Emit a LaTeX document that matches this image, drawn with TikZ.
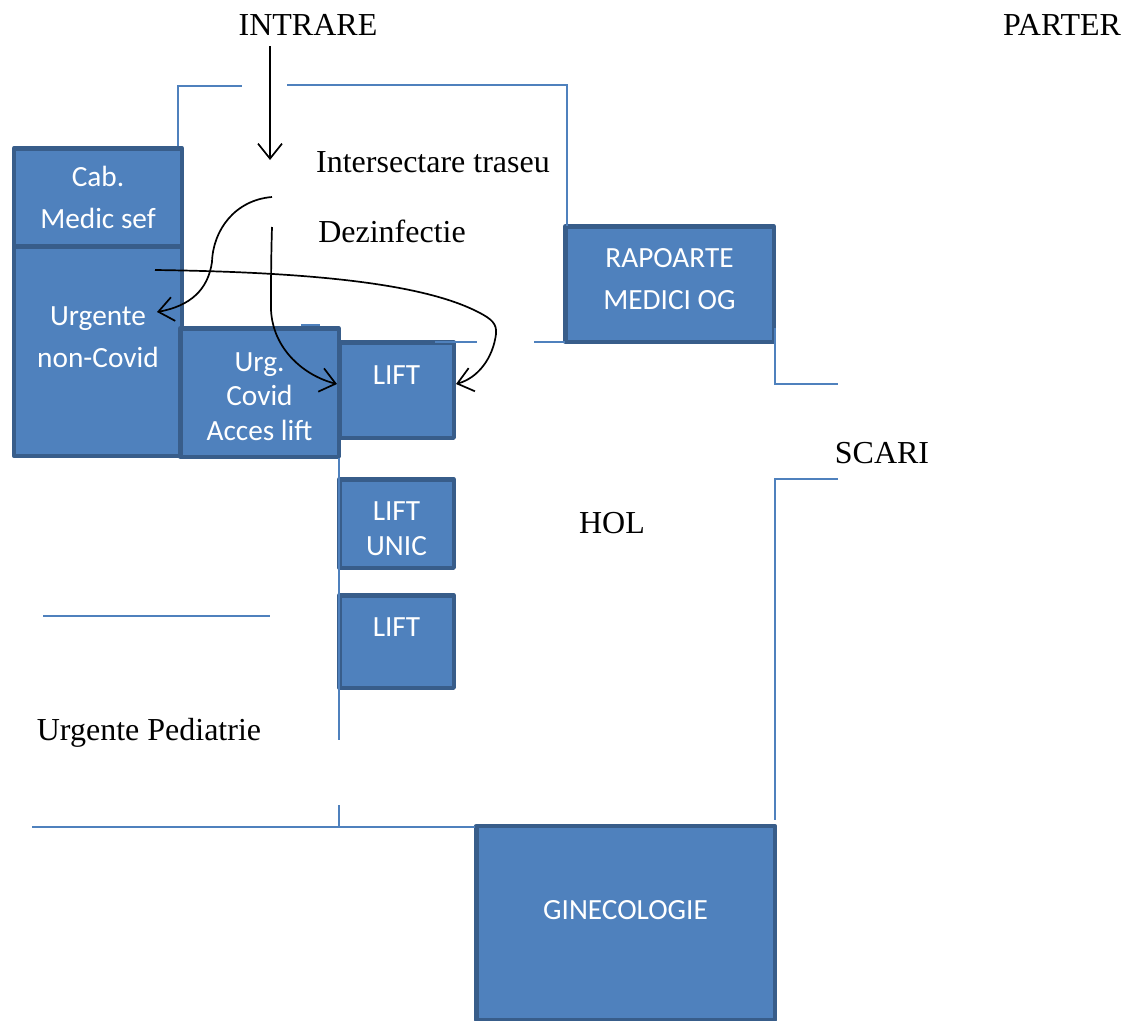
\documentclass[tikz,border=0pt]{standalone}
\usepackage{fontspec}
\setmainfont{Liberation Serif}
\newfontfamily\boxfont{Carlito}
\usetikzlibrary{arrows.meta}
\definecolor{roomfill}{HTML}{4F81BD}
\definecolor{roomline}{HTML}{385D8A}
\tikzset{
    room/.style={draw=roomline, fill=roomfill, line width=4.5pt, line join=round, text=white, align=center, inner sep=0pt, font=\boxfont\fontsize{29.3}{34.5}\selectfont},
    wall/.style={draw=roomfill, line width=2pt},
    route/.style={draw=black, line width=1.7pt, ->, >={Straight Barb[length=15pt,width=24pt,line width=1.7pt]}},
    caption/.style={font=\fontsize{32}{38}\selectfont, inner sep=0pt}
}
\begin{document}
\begin{tikzpicture}[x=1pt,y=-1pt]
    \useasboundingbox (0,0) rectangle (1129,1020);
    \node [room, minimum width=168, minimum height=97.5, text height=64pt] (cab) at (98,197) {Cab.\\[8pt]Medic sef};
    \node [room, minimum width=168, minimum height=209.5, text depth=28pt] (urgnon) at (98,351) {Urgente\\[8pt]non-Covid};
    \node [room, minimum width=114.5, minimum height=95.5, text depth=30pt] (lifta) at (396.5,390) {LIFT};
    \node [room, minimum width=158.5, minimum height=128.5, text height=96pt] (urgcov) at (259.5,392.5) {Urg.\\Covid\\Acces lift};
    \node [room, minimum width=114.5, minimum height=88.5, text height=65pt] (liftunic) at (396.5,523.5) {LIFT\\[.5pt]UNIC};
    \node [room, minimum width=114.5, minimum height=92.5, text depth=28pt] (liftb) at (396.5,641.5) {LIFT};
    \node [room, minimum width=208.5, minimum height=115.5, text depth=10pt] (rapoarte) at (669.5,284) {RAPOARTE\\[7pt]MEDICI OG};
    \node [room, minimum width=298.5, minimum height=194, text depth=26pt] (gineco) at (625.5,923) {GINECOLOGIE};
    \draw [wall] (178,146) -- (178,86) -- (242,86);
    \draw [wall] (287,85) -- (567,85) -- (567,226);
    \draw [wall] (301,325) -- (320,325);
    \draw [wall] (435,342) -- (477,342);
    \draw [wall] (534,342) -- (565,342);
    \draw [wall] (775,328) -- (775,384) -- (838,384);
    \draw [wall] (838,479) -- (775,479) -- (775,820);
    \draw [wall] (339,458) -- (339,740);
    \draw [wall] (339,805) -- (339,827);
    \draw [wall] (43,616) -- (270,616);
    \draw [wall] (32,827) -- (475,827);
    \node [caption] (intrare) at (308,25) {INTRARE};
    \node [caption] (parter) at (1062,25) {PARTER};
    \node [caption] (traseu) at (433,162) {Intersectare traseu};
    \node [caption] (dezinf) at (392,231) {Dezinfectie};
    \node [caption] (scari) at (882,453) {SCARI};
    \node [caption] (hol) at (612,523) {HOL};
    \node [caption] (pediatrie) at (149,733) {Urgente Pediatrie};
    \coordinate (enter) at (270,46);
    \coordinate (stop) at (270,160);
    \coordinate (splitleft) at (272,197);
    \coordinate (splitdown) at (272,227);
    \coordinate (cross) at (155,270);
    \draw [route] (enter) -- (stop);
    \draw [route] (splitleft) .. controls (235,200) and (213,230) .. (212,262) .. controls (208,290) and (190,306) .. (157,312);
    \draw [route] (splitdown) .. controls (271,260) and (271,285) .. (271,310) .. controls (273,350) and (305,376) .. ([yshift=6pt]lifta.west);
    \draw [route] (cross) .. controls (300,272) and (420,282) .. (478,312) .. controls (492,319) and (497,324) .. (496,334) .. controls (493,358) and (478,378) .. ([yshift=6pt]lifta.east);
\end{tikzpicture}
\end{document}
